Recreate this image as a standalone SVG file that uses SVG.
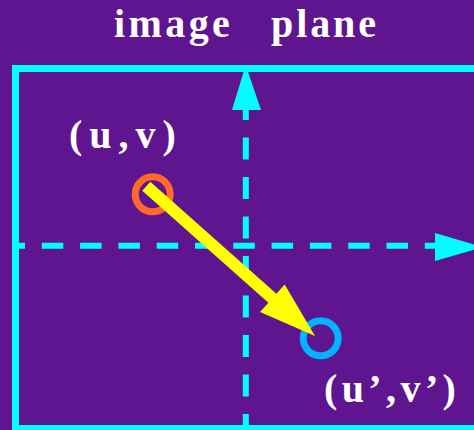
<svg xmlns="http://www.w3.org/2000/svg" width="474" height="430" viewBox="0 0 474 430">
  <style>
    .lbl { font-family: "Liberation Serif", "Times New Roman", serif; font-weight: bold; font-size: 40px; fill: #ffffff; }
    .axis { stroke: #00ffff; stroke-width: 6; fill: none; }
    .cyan { fill: #00ffff; }
  </style>
  <rect x="0" y="0" width="474" height="430" fill="#5e158f"/>
  <g id="title">
    <text class="lbl" x="114" y="37" letter-spacing="3.4">image</text>
    <text class="lbl" x="271" y="37" letter-spacing="2.9">plane</text>
  </g>
  <g id="image-plane">
    <rect x="15.5" y="68.5" width="500" height="360" fill="none" stroke="#00ffff" stroke-width="7"/>
  </g>
  <g id="axes">
    <line class="axis" x1="19" y1="245.8" x2="440" y2="245.8" stroke-dasharray="21.5 16.8" stroke-dashoffset="15.5"/>
    <polygon class="cyan" points="435,233 483,247 435,261"/>
    <line class="axis" x1="245.8" y1="98" x2="245.8" y2="432" stroke-dasharray="22 17.5"/>
    <polygon class="cyan" points="245.7,65 232,110 261,110"/>
  </g>
  <g id="point-uv">
    <circle cx="152.7" cy="194.3" r="17.5" fill="none" stroke="#ff6a2a" stroke-width="7"/>
    <text class="lbl" x="69" y="148" letter-spacing="7">(u,v)</text>
  </g>
  <g id="point-u2v2">
    <circle cx="320.7" cy="338.3" r="17.5" fill="none" stroke="#00b4ff" stroke-width="7"/>
    <text class="lbl" x="324" y="402" letter-spacing="4.4">(u’,v’)</text>
  </g>
  <g id="connectors">
    <polygon fill="#ffff00" points="142.3,190.8 268.4,302.7 260.1,312 315,336 284.7,284.4 276.4,293.7 150.3,181.8"/>
  </g>
</svg>
